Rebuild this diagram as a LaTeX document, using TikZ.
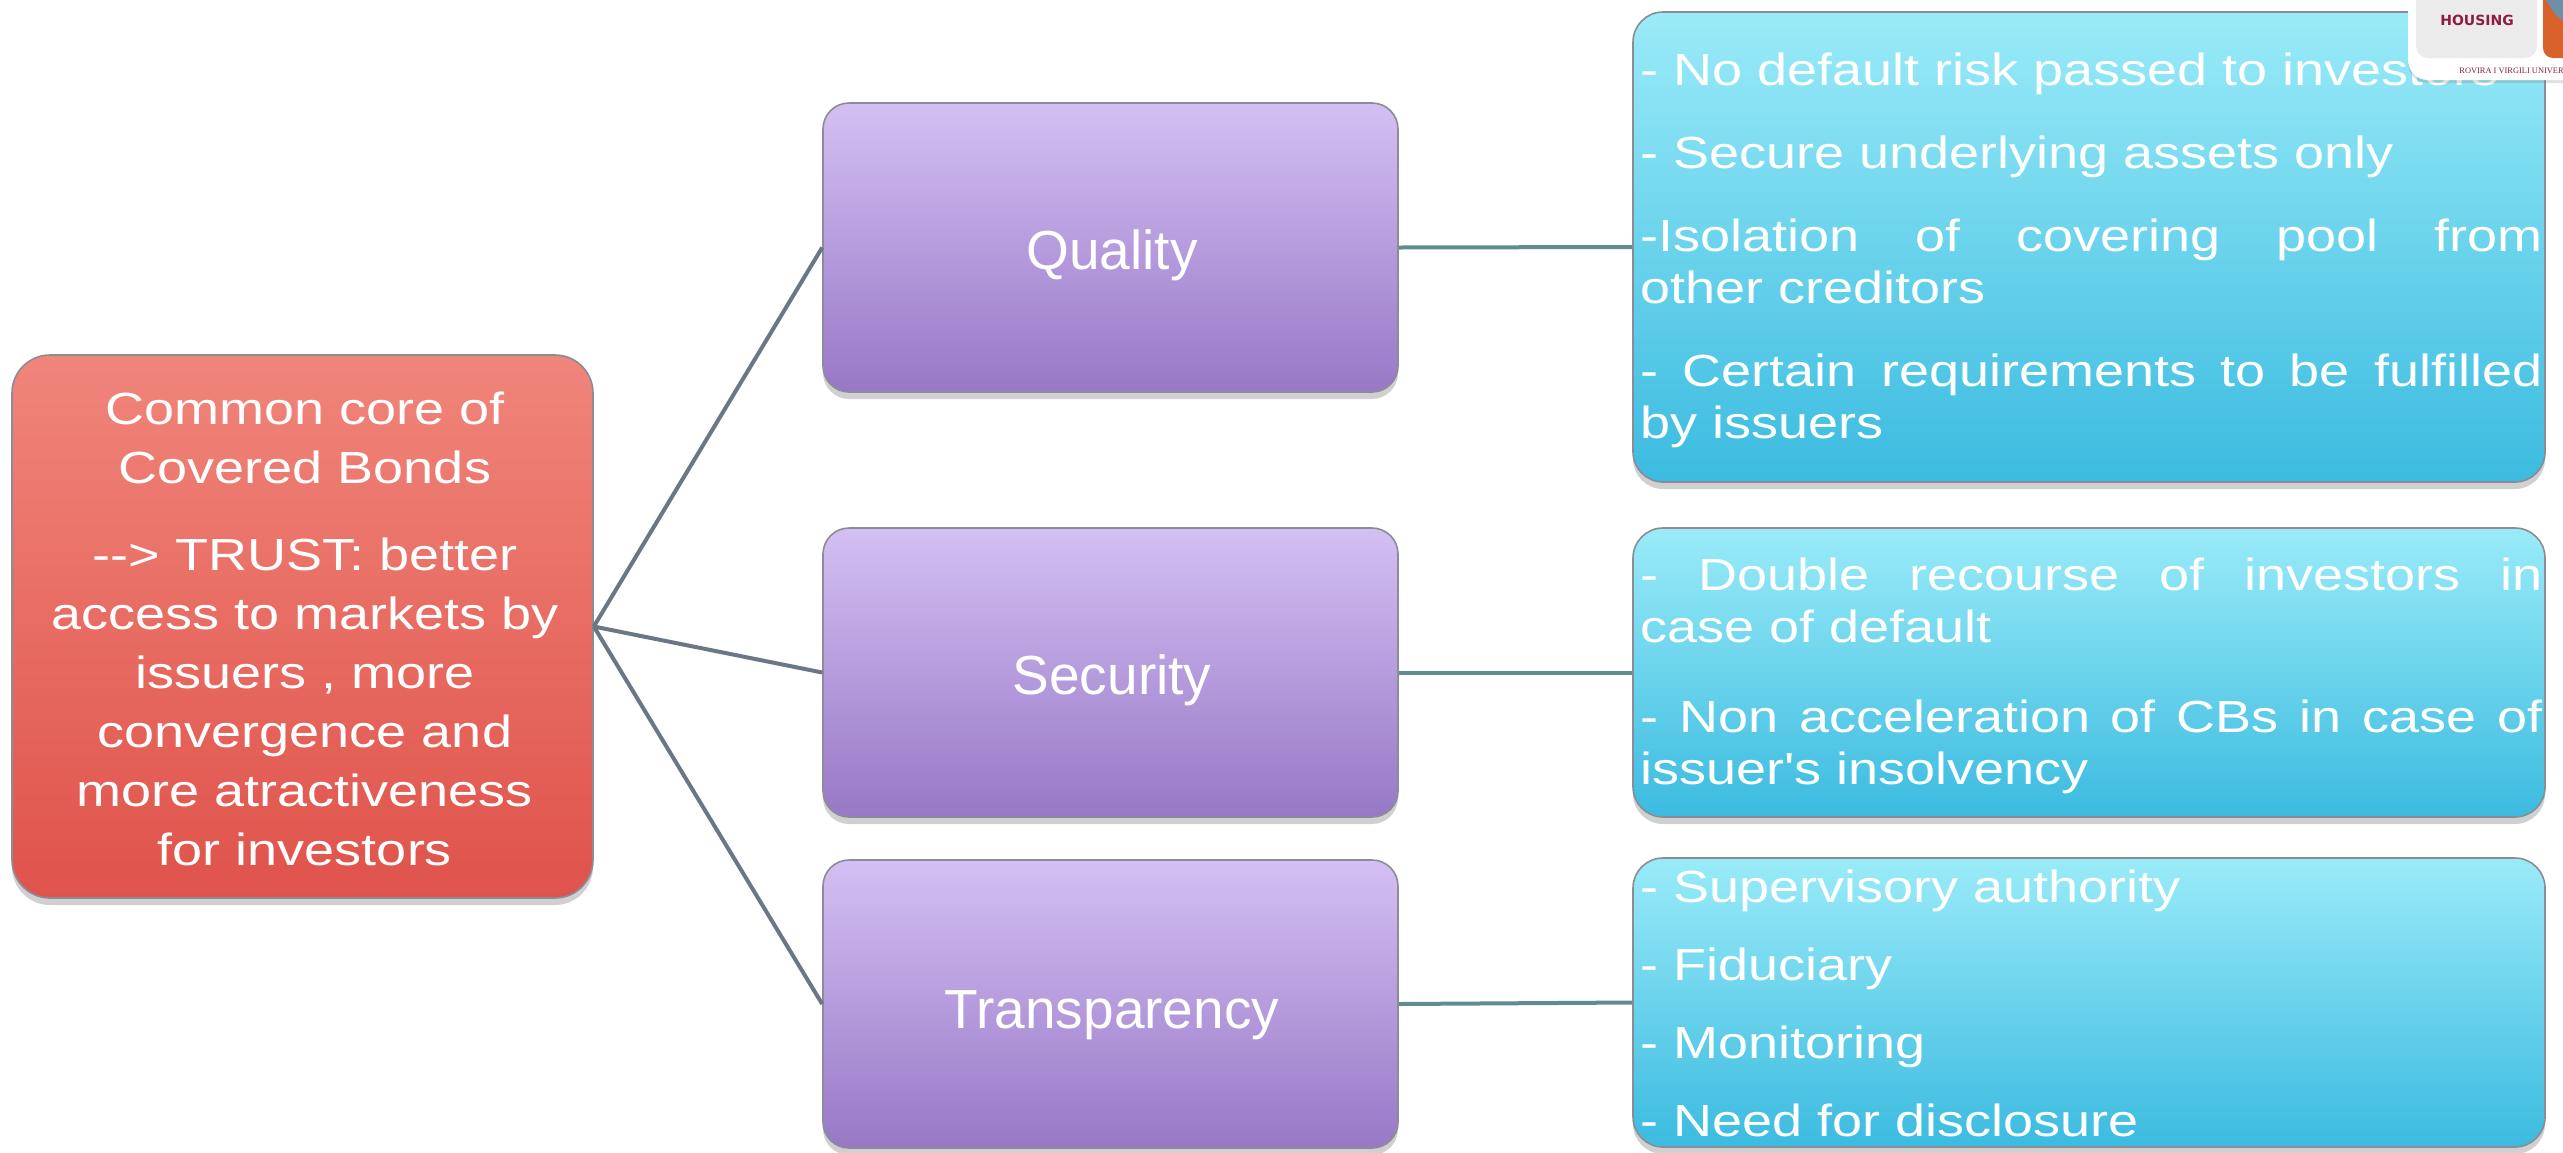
\documentclass[tikz,border=0pt]{standalone}
\usepackage{fontspec}
\setmainfont{Liberation Sans}
\newfontfamily\widefont[FakeStretch=1.2]{Liberation Sans}
\newfontfamily\logofont{DejaVu Sans}
\newfontfamily\logoserif{Liberation Serif}
\usetikzlibrary{fit,shadows}
\definecolor{redtop}{HTML}{F0857B}
\definecolor{redbot}{HTML}{DF534B}
\definecolor{purtop}{HTML}{D3C0F3}
\definecolor{purbot}{HTML}{9878C6}
\definecolor{cyantop}{HTML}{9AEBF8}
\definecolor{cyanbot}{HTML}{3BBBE0}
\definecolor{linegray}{HTML}{6B7786}
\definecolor{lineteal}{HTML}{5F8D8E}
\definecolor{boxedge}{HTML}{8C8C98}
\definecolor{logored}{HTML}{8C1D40}
\definecolor{logoorange}{HTML}{D8622A}
\definecolor{logoblue}{HTML}{6F8FA8}
\begin{document}
\begin{tikzpicture}[x=0.5pt,y=-0.5pt,
  softshadow/.style={drop shadow={shadow xshift=0pt,shadow yshift=-3.5pt,opacity=0.3,fill=black!60}},
  basebox/.style={inner sep=0pt, draw=boxedge, line width=0.8pt, softshadow},
  corebox/.style={basebox, rounded corners=19pt, top color=redtop, bottom color=redbot},
  coretext/.style={anchor=base, inner sep=0pt, text width=290pt, align=center, text=white,
     font=\widefont\fontsize{22.5}{29.5}\selectfont},
  catbox/.style={basebox, rounded corners=13pt, top color=purtop, bottom color=purbot},
  cattext/.style={anchor=base, inner sep=0pt, text=white, font=\fontsize{27.5}{33}\selectfont},
  detailbox/.style={basebox, rounded corners=15pt, top color=cyantop, bottom color=cyanbot},
  detailtext/.style={anchor=base west, inner sep=0pt, text width=451pt, align=justify, text=white,
     font=\widefont\fontsize{22.5}{26}\selectfont},
  trunk/.style={draw=linegray, line width=2pt},
  branch/.style={draw=lineteal, line width=2pt}]
\useasboundingbox (0,0) rectangle (2563,1152);
\fill[white] (0,0) rectangle (2563,1152);

% boxes
\node[corebox, fit={(12,355) (593,898)}] (core) {};
\node[catbox, fit={(823,103) (1398,392)}] (quality) {};
\node[catbox, fit={(823,528) (1398,817)}] (security) {};
\node[catbox, fit={(823,860) (1398,1148)}] (transparency) {};
\node[detailbox, fit={(1633,12) (2545,482)}] (dquality) {};
\node[detailbox, fit={(1633,528) (2545,817)}] (dsecurity) {};
\node[detailbox, fit={(1633,858) (2545,1147)}] (dtransparency) {};

% connectors
\draw[trunk] (core.east) -- (quality.west);
\draw[trunk] (core.east) -- (security.west);
\draw[trunk] (core.east) -- (transparency.west);
\draw[branch] (quality.east) -- (dquality.west);
\draw[branch] (security.east) -- (dsecurity.west);
\draw[branch] (transparency.east) -- (dtransparency.west);

% box texts
\node[coretext] (coretxt) at (305,424) {Common core of\\Covered Bonds\\[14pt]-{}-{}> TRUST: better\\access to markets by\\issuers , more\\convergence and\\more atractiveness\\for investors};
\node[cattext] (qualitytxt) at (1112,269) {Quality};
\node[cattext] (securitytxt) at (1112,694) {Security};
\node[cattext] (transparencytxt) at (1112,1028) {Transparency};

% detail texts
\begin{scope}
\clip[rounded corners=15pt] (dquality.north west) rectangle (dquality.south east);
\node[detailtext] (tquality) at (1640,85) {\tolerance=10000\hbadness=10000\setlength{\parskip}{15.5pt}%
- No default risk passed to investors\par
- Secure underlying assets only\par
-Isolation of covering pool from\linebreak other creditors\par
- Certain requirements to be fulfilled\linebreak by issuers};
\end{scope}
\begin{scope}
\clip[rounded corners=15pt] (dsecurity.north west) rectangle (dsecurity.south east);
\node[detailtext] (tsecurity) at (1640,590) {\tolerance=10000\hbadness=10000\setlength{\parskip}{19pt}%
- Double recourse of investors in\linebreak case of default\par
- Non acceleration of CBs in case of\linebreak issuer's insolvency};
\end{scope}
\begin{scope}
\clip[rounded corners=15pt] (dtransparency.north west) rectangle (dtransparency.south east);
\node[detailtext] (ttransparency) at (1640,902) {\tolerance=10000\hbadness=10000\setlength{\parskip}{13pt}%
- Supervisory authority\par
- Fiduciary\par
- Monitoring\par
- Need for disclosure};
\end{scope}

% logo
\fill[white, rounded corners=10pt, drop shadow={shadow xshift=0pt,shadow yshift=-1.5pt,opacity=0.25}] (2408,-30) rectangle (2620,80);
\fill[black!8, rounded corners=6pt] (2416,-20) rectangle (2537,58);
\fill[logoorange, rounded corners=5pt] (2543,-20) rectangle (2620,58);
\fill[logoblue] (2543,-5) .. controls (2552,10) and (2556,18) .. (2563,20) -- (2563,-5) -- cycle;
\node[font=\logofont\bfseries\fontsize{7}{8}\selectfont, text=logored] (housing) at (2477,20) {HOUSING};
\node[font=\logoserif\fontsize{4.2}{5}\selectfont, text=logored, anchor=west, inner sep=0pt] (rovira) at (2459,71) {ROVIRA I VIRGILI UNIVER};
\end{tikzpicture}
\end{document}
